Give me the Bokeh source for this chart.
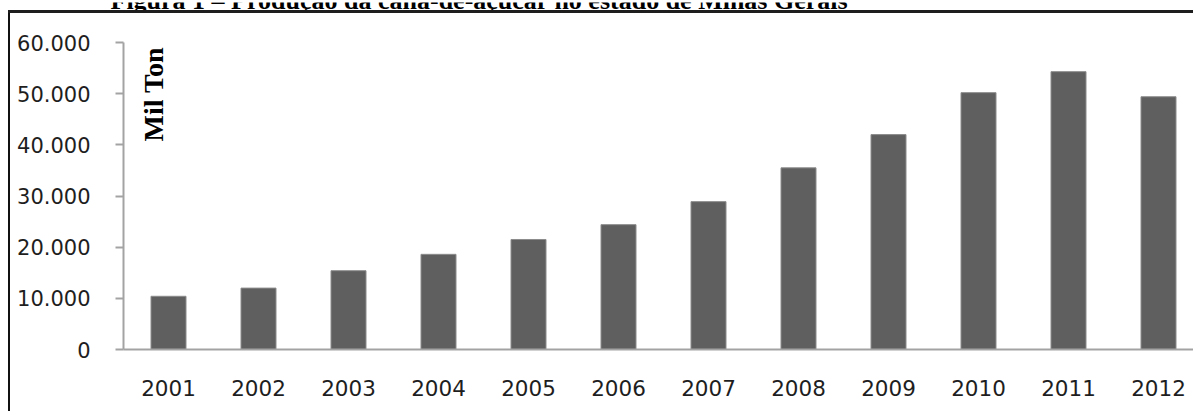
import math
from bokeh.plotting import figure
from bokeh.layouts import column, row
from bokeh.models import (Range1d, FixedTicker, Label, ColumnDataSource, Div, Spacer)
from bokeh.embed import file_html
from bokeh.resources import INLINE

# ---- data ----
years = ["2001", "2002", "2003", "2004", "2005", "2006",
         "2007", "2008", "2009", "2010", "2011", "2012"]
production = [10400, 12000, 15400, 18600, 21500, 24400,
              28900, 35500, 42000, 50200, 54300, 49400]
y_ticks = [0, 10000, 20000, 30000, 40000, 50000, 60000]
y_tick_labels = ["0", "10.000", "20.000", "30.000", "40.000", "50.000", "60.000"]
title_text = "Figura 1 – Produção da cana-de-açúcar no estado de Minas Gerais"
unit_text = "Mil Ton"

positions = list(range(1, len(years) + 1))
source = ColumnDataSource(dict(x=positions, top=production, year=years))

FRAME_W = 1070
CAT_PX = 90

p = figure(width=1183, height=398, output_backend="svg", toolbar_location=None,
           x_range=Range1d(0.5, 0.5 + FRAME_W / CAT_PX), y_range=Range1d(0, 60000),
           min_border_left=113, min_border_right=0, min_border_top=29,
           min_border_bottom=62, tools="", margin=0)

p.vbar(x="x", top="top", width=35 / CAT_PX, source=source,
       fill_color="#5f5f5f", line_color="#8c8c8c", line_width=1)

p.xgrid.visible = False
p.ygrid.visible = False
p.outline_line_color = None
p.background_fill_color = "white"
p.border_fill_color = "white"

axis_gray = "#a3a3a3"
tick_font = "DejaVu Sans"

ya = p.yaxis[0]
ya.ticker = FixedTicker(ticks=y_ticks)
ya.major_label_overrides = {t: lab for t, lab in zip(y_ticks, y_tick_labels)}
ya.axis_line_color = axis_gray
ya.axis_line_width = 2
ya.major_tick_line_color = axis_gray
ya.major_tick_line_width = 2
ya.major_tick_in = 0
ya.major_tick_out = 8
ya.minor_tick_line_color = None
ya.major_label_text_font = tick_font
ya.major_label_text_font_size = "21px"
ya.major_label_text_color = "#1e1e1e"
ya.major_label_standoff = 25

xa = p.xaxis[0]
xa.ticker = FixedTicker(ticks=positions)
xa.major_label_overrides = {pos: yr for pos, yr in zip(positions, years)}
xa.axis_line_color = axis_gray
xa.axis_line_width = 2
xa.major_tick_line_color = None
xa.major_tick_in = 0
xa.major_tick_out = 0
xa.minor_tick_line_color = None
xa.major_label_text_font = tick_font
xa.major_label_text_font_size = "21.5px"
xa.major_label_text_color = "#1e1e1e"
xa.major_label_standoff = 30

# unit label inside the plot
p.add_layout(Label(x=30, y=208, x_units="screen", y_units="screen", text=unit_text,
                   angle=math.pi / 2, text_font="Liberation Serif",
                   text_font_style="bold", text_font_size="28px",
                   text_color="black", text_baseline="middle", text_align="left"))

# caption strip above the framed box (its top is cut by the window edge)
t = figure(width=1193, height=10, output_backend="svg", toolbar_location=None,
           tools="", x_axis_type=None, y_axis_type=None, min_border=0, margin=0,
           x_range=Range1d(0, 1), y_range=Range1d(0, 1))
t.outline_line_color = None
t.xgrid.visible = False
t.ygrid.visible = False
t.add_layout(Label(x=110, y=12, x_units="screen", y_units="screen", text=title_text,
                   text_font="Liberation Serif", text_font_style="bold",
                   text_font_size="26px", text_color="black",
                   text_baseline="alphabetic", text_align="left"))

top_rule = row(Spacer(width=8, height=3, margin=0),
               Div(text="", width=1185, height=3, margin=0,
                   styles={"background-color": "#1e1e1e"}),
               spacing=0, margin=0)

left_rule = Div(text="", width=2, height=398, margin=0,
                styles={"background-color": "#111111"})

layout = column(t, top_rule,
                row(Spacer(width=8, height=398, margin=0), left_rule, p,
                    spacing=0, margin=0),
                spacing=0, margin=0)

open("out.html", "w").write(file_html(layout, INLINE))
